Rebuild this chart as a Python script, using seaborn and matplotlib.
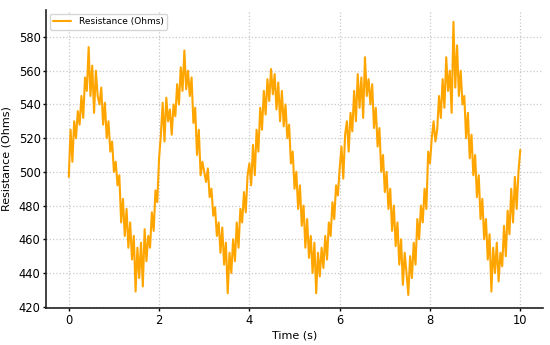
import numpy as np
import pandas as pd
import matplotlib
matplotlib.use("Agg")
import matplotlib.pyplot as plt
import seaborn as sns

# time step of 0.04 s, 0..10 s
time_s = np.round(np.arange(0, 251) * 0.04, 2)

# resistance readings (Ohms)
resistance = [
    497, 525, 506, 530, 520, 536, 528, 545, 532, 556,
    548, 574, 545, 563, 535, 560, 545, 540, 550, 528,
    541, 520, 530, 512, 518, 500, 506, 492, 498, 470,
    484, 462, 478, 455, 470, 448, 462, 429, 455, 437,
    458, 432, 466, 447, 462, 455, 476, 465, 489, 482,
    508, 522, 541, 518, 544, 530, 537, 522, 540, 533,
    552, 540, 562, 548, 572, 549, 560, 545, 556, 529,
    538, 510, 525, 498, 506, 500, 494, 502, 485, 490,
    474, 479, 462, 470, 452, 467, 445, 458, 428, 452,
    440, 460, 447, 470, 455, 478, 470, 488, 476, 498,
    505, 492, 516, 498, 525, 512, 538, 525, 548, 534,
    555, 542, 561, 546, 558, 537, 553, 530, 548, 527,
    540, 520, 528, 505, 512, 490, 500, 478, 492, 468,
    480, 455, 472, 449, 462, 440, 458, 428, 452, 438,
    455, 443, 462, 448, 470, 462, 482, 472, 492, 486,
    502, 515, 496, 522, 530, 512, 535, 524, 548, 530,
    558, 538, 556, 532, 568, 545, 555, 540, 552, 526,
    538, 515, 526, 500, 510, 488, 500, 478, 490, 465,
    480, 456, 470, 445, 460, 433, 452, 440, 427, 450,
    437, 458, 445, 472, 460, 480, 470, 490, 478, 512,
    505, 520, 530, 518, 525, 545, 532, 555, 538, 568,
    548, 560, 535, 589, 550, 575, 545, 560, 540, 545,
    520, 535, 508, 522, 498, 510, 485, 498, 472, 484,
    460, 472, 448, 463, 429, 455, 440, 458, 435, 452,
    444, 468, 450, 477, 463, 490, 470, 497, 478, 500,
    513,
]

df = pd.DataFrame({"Time (s)": time_s, "Resistance (Ohms)": resistance})

sns.set_style("ticks")
plt.rcParams["font.family"] = ["DejaVu Sans"]
plt.rcParams["text.color"] = "black"
plt.rcParams["axes.labelcolor"] = "black"
plt.rcParams["xtick.color"] = "black"
plt.rcParams["ytick.color"] = "black"
plt.rcParams["axes.edgecolor"] = "#222222"

fig = plt.figure(figsize=(5.5, 3.45), dpi=100)
ax = fig.add_axes([0.084, 0.107, 0.903, 0.864])

sns.lineplot(data=df, x="Time (s)", y="Resistance (Ohms)", color="orange",
             linewidth=1.5, label="Resistance (Ohms)", ax=ax)

ax.set_xlim(-0.5, 10.5)
ax.set_ylim(419.2, 596)
ax.set_yticks([420, 440, 460, 480, 500, 520, 540, 560, 580])
ax.set_xticks([0, 2, 4, 6, 8, 10])
ax.grid(True, linestyle=":", color="#c8c8c8", linewidth=0.9)
ax.tick_params(labelsize=8.3, length=2, width=1, pad=2)
ax.set_xlabel("Time (s)", fontsize=8, labelpad=3)
ax.set_ylabel("Resistance (Ohms)", fontsize=8, labelpad=5)
for side in ["top", "right"]:
    ax.spines[side].set_visible(False)
for side in ["left", "bottom"]:
    ax.spines[side].set_linewidth(1.2)
ax.legend(loc="upper left", fontsize=6.5, frameon=True, borderaxespad=0.4)

fig.savefig("out.png", dpi=100)
